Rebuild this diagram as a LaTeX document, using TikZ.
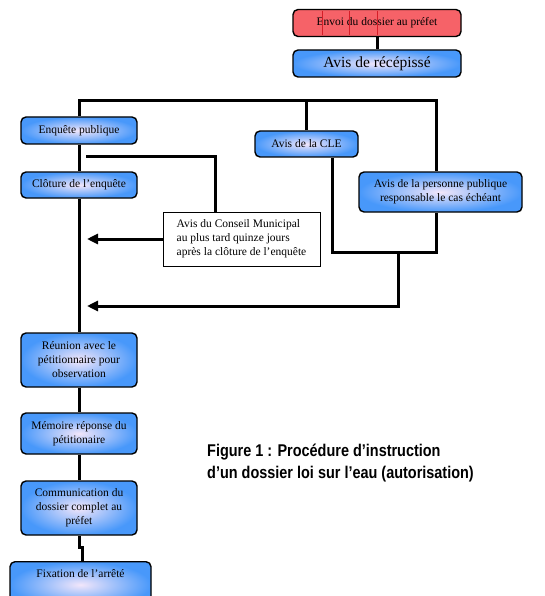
\documentclass[tikz,border=0pt]{standalone}
\usepackage{fontspec}
\setmainfont{Liberation Serif}
\newfontfamily\capfont[FakeStretch=0.85]{Liberation Sans}
\usetikzlibrary{arrows.meta}

\definecolor{boxblue}{RGB}{72,152,250}
\definecolor{boxcore}{RGB}{242,230,250}
\definecolor{boxred}{RGB}{246,98,104}
\definecolor{redline}{RGB}{214,30,40}

\begin{document}
\begin{tikzpicture}[x=1pt, y=-1pt,
  every node/.style={font=\fontsize{11.5}{14}\selectfont},
  box/.style={draw, line width=1.4pt, rounded corners=5pt, shade,
    inner color=boxcore, outer color=boxblue, align=center,
    inner sep=0pt, minimum width=116pt},
  redbox/.style={draw, line width=1.4pt, rounded corners=5pt, fill=boxred,
    inner sep=0pt, minimum width=168pt, minimum height=27pt},
  notebox/.style={draw, line width=1pt, fill=white, align=left,
    inner xsep=12pt, inner ysep=0pt, minimum width=157pt, minimum height=54pt},
  link/.style={line width=3pt},
  arr/.style={line width=3pt, -{Triangle[length=11pt,width=10pt]}},
  caption/.style={font=\capfont\bfseries\fontsize{17}{22}\selectfont,
    align=left, inner sep=0pt}]
  \useasboundingbox (0,0) rectangle (544,596);
  \clip (0,0) rectangle (544,596);
  \fill[white] (0,0) rectangle (544,596);

  % start
  \node[redbox] (envoi) at (377,23) {Envoi du dossier au préfet};
  \foreach \x in {322,349,377}
    \draw[redline, line width=0.6pt] (\x,11) -- (\x,35);
  \node[box, minimum width=168pt, minimum height=27pt,
    font=\fontsize{15.5}{18}\selectfont] (recep) at (377,63.5) {Avis de récépissé};

  % left column
  \node[box, minimum height=27pt] (enquete) at (79,130.5) {Enquête publique};
  \node[box, minimum height=26pt] (cloture) at (79,185) {Clôture de l’enquête};
  \node[box, minimum height=54pt] (reunion) at (79,360)
    {Réunion avec le\\pétitionnaire pour\\observation};
  \node[box, minimum height=41pt] (memoire) at (79,433.5)
    {Mémoire réponse du\\pétitionaire};
  \node[box, minimum height=54pt] (comm) at (79,508)
    {Communication du\\dossier complet au\\préfet};
  \node[box, anchor=north, minimum width=141pt, text height=12pt,
    text depth=26pt, inner ysep=4pt] (fixation) at (80.5,561)
    {Fixation de l’arrêté};

  % other advices
  \node[box, minimum width=103pt, minimum height=26pt] (cle) at (306.5,144)
    {Avis de la CLE};
  \node[box, minimum width=163pt, minimum height=40pt] (personne) at (440.5,192)
    {Avis de la personne publique\\responsable le cas échéant};
  \node[notebox] (conseil) at (241.5,239)
    {Avis du Conseil Municipal\\au plus tard quinze jours\\après la clôture de l’enquête};

  % caption
  \node[caption, anchor=north west] (titre) at (207,444)
    {Figure 1 : Procédure d’instruction\\d’un dossier loi sur l’eau (autorisation)};

  % connectors
  \coordinate (barR) at (436,101);
  \coordinate (clotR) at (86,157);
  \coordinate (joinR) at (436,252);
  \coordinate (joinM) at (398,252);
  \coordinate (tipA) at (87,239);
  \coordinate (tipB) at (87,306);

  \draw[link] (envoi.south) -- (recep.north);
  \draw[link] (enquete.north) |- (barR) -- (barR |- personne.north);
  \draw[link] (cle.north) -- (cle.north |- barR);
  \draw[link] (enquete.south) -- (cloture.north);
  \draw[link] (clotR) -| ([xshift=-26.5pt]conseil.north);
  \draw[link] ([xshift=25.5pt]cle.south) |- (joinR)
    -- ([xshift=-4.5pt]personne.south);
  \draw[arr] (conseil.west) -- (tipA);
  \draw[arr] (joinM) |- (tipB);
  \draw[link] (cloture.south) -- (reunion.north);
  \draw[link] (reunion.south) -- (memoire.north);
  \draw[link] (memoire.south) -- (comm.north);
  \draw[link] (comm.south) -- ++(0,12) -| ([xshift=2pt]fixation.north);
\end{tikzpicture}
\end{document}
